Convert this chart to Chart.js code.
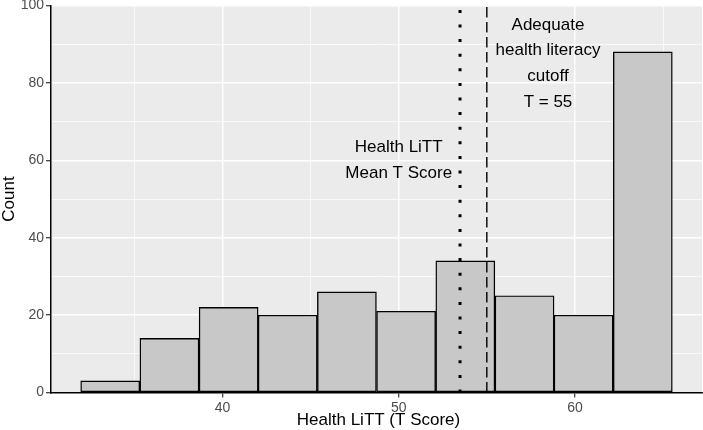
<!DOCTYPE html>
<html>
<head>
<meta charset="utf-8">
<script src="https://cdn.jsdelivr.net/npm/chart.js@4"></script>
<style>
    html, body { margin: 0; padding: 0; background: #ffffff; }
    #wrap { width: 703px; height: 430px; }
</style>
</head>
<body>
<div id="wrap"><canvas id="hist" width="703" height="430"></canvas></div>
<script>
// Histogram bins (centres of the bins) and counts
const binCenters = [33.63, 36.99, 40.35, 43.70, 47.06, 50.42, 53.78, 57.14, 60.49, 63.85];
const counts = [3, 14, 22, 20, 26, 21, 34, 25, 20, 88];

// Reference lines
const meanT = 53.48;
const cutoffT = 55;

// Axis ticks
const xTicks = [35, 40, 45, 50, 55, 60, 65];
const xTickLabels = [40, 50, 60];
const yTicks = [0, 10, 20, 30, 40, 50, 60, 70, 80, 90, 100];
const yTickLabels = [0, 20, 40, 60, 80, 100];

// Text annotations
const meanLabel = ['Health LiTT', 'Mean T Score'];
const meanLabelPos = { x: 50, y: 60 };
const cutoffLabel = ['Adequate', 'health literacy', 'cutoff', 'T = 55'];
const cutoffLabelPos = { x: 58.47, y: 85 };

const FONT = '"Liberation Sans", Arial, sans-serif';

const isMajorX = v => xTickLabels.includes(v);
const isMajorY = v => yTickLabels.includes(v);

// grey panel background behind the grid
const panelBackground = {
    id: 'panelBackground',
    beforeDraw(chart) {
        const { ctx, chartArea: a } = chart;
        ctx.save();
        ctx.fillStyle = '#ebebeb';
        ctx.fillRect(a.left, a.top, a.right - a.left, a.bottom - a.top);
        ctx.restore();
    }
};

// vertical reference lines and text labels
const refLines = {
    id: 'refLines',
    afterDatasetsDraw(chart) {
        const { ctx, chartArea: a, scales } = chart;
        const x = scales.x, y = scales.y;
        ctx.save();

        // dotted mean line
        const xm = x.getPixelForValue(meanT);
        ctx.strokeStyle = '#000000';
        ctx.lineWidth = 3;
        ctx.lineCap = 'butt';
        ctx.setLineDash([3, 11.6]);
        ctx.beginPath();
        ctx.moveTo(xm, a.bottom);
        ctx.lineTo(xm, a.top);
        ctx.stroke();

        // dashed cutoff line
        const xc = x.getPixelForValue(cutoffT);
        ctx.lineWidth = 1.4;
        ctx.setLineDash([10.5, 4.5]);
        ctx.beginPath();
        ctx.moveTo(xc, a.bottom);
        ctx.lineTo(xc, a.top);
        ctx.stroke();
        ctx.setLineDash([]);

        // labels
        ctx.fillStyle = '#000000';
        ctx.font = '17px ' + FONT;
        ctx.textAlign = 'center';
        ctx.textBaseline = 'middle';
        const drawBlock = (lines, pos, spacing) => {
            const cx = x.getPixelForValue(pos.x);
            const cy = y.getPixelForValue(pos.y);
            const start = cy - spacing * (lines.length - 1) / 2;
            lines.forEach((t, i) => ctx.fillText(t, cx, start + i * spacing));
        };
        drawBlock(meanLabel, meanLabelPos, 26.4);
        drawBlock(cutoffLabel, cutoffLabelPos, 25.7);

        ctx.restore();
    }
};

// axis titles
const axisTitles = {
    id: 'axisTitles',
    afterDraw(chart) {
        const { ctx, chartArea: a } = chart;
        ctx.save();
        ctx.fillStyle = '#000000';
        ctx.font = '17px ' + FONT;
        ctx.textAlign = 'center';
        ctx.textBaseline = 'alphabetic';
        ctx.fillText('Health LiTT (T Score)', (a.left + a.right) / 2 + 2, 425);

        ctx.translate(13.5, (a.top + a.bottom) / 2);
        ctx.rotate(-Math.PI / 2);
        ctx.fillText('Count', 0, 0);
        ctx.restore();
    }
};

new Chart(document.getElementById('hist'), {
    type: 'bar',
    data: {
        datasets: [{
            data: binCenters.map((c, i) => ({ x: c, y: counts[i] })),
            backgroundColor: '#c8c8c8',
            borderColor: '#000000',
            borderWidth: 1.4,
            borderSkipped: false,
            barPercentage: 1,
            categoryPercentage: 1
        }]
    },
    options: {
        responsive: false,
        animation: false,
        devicePixelRatio: 1,
        layout: { padding: { top: 5.5, right: 1, left: 0, bottom: 0 } },
        plugins: {
            legend: { display: false },
            tooltip: { enabled: false }
        },
        scales: {
            x: {
                type: 'linear',
                offset: false,
                min: 30.27,
                max: 67.21,
                afterBuildTicks: s => { s.ticks = xTicks.map(v => ({ value: v })); },
                afterFit: s => {
                    s.height = 37.5;
                    s.paddingLeft = 0;
                    s.paddingRight = 0;
                },
                ticks: {
                    autoSkip: false,
                    maxRotation: 0,
                    padding: 2,
                    color: '#4d4d4d',
                    font: { family: FONT, size: 14 },
                    callback: v => isMajorX(v) ? v : ''
                },
                grid: {
                    offset: false,
                    color: '#ffffff',
                    lineWidth: c => (c.tick && isMajorX(c.tick.value)) ? 1.4 : 0.7,
                    tickLength: 5,
                    tickWidth: 1.2,
                    tickColor: c => (c.tick && isMajorX(c.tick.value)) ? '#333333' : 'rgba(0,0,0,0)'
                },
                border: { display: true, color: '#000000', width: 1.5 }
            },
            y: {
                min: 0,
                max: 100,
                afterBuildTicks: s => { s.ticks = yTicks.map(v => ({ value: v })); },
                afterFit: s => {
                    s.width = 51;
                    s.paddingTop = 0;
                    s.paddingBottom = 0;
                },
                ticks: {
                    autoSkip: false,
                    padding: 2,
                    color: '#4d4d4d',
                    font: { family: FONT, size: 14 },
                    callback: v => isMajorY(v) ? v : ''
                },
                grid: {
                    color: '#ffffff',
                    lineWidth: c => (c.tick && isMajorY(c.tick.value)) ? 1.4 : 0.7,
                    tickLength: 5,
                    tickWidth: 1.2,
                    tickColor: c => (c.tick && isMajorY(c.tick.value)) ? '#333333' : 'rgba(0,0,0,0)'
                },
                border: { display: true, color: '#000000', width: 1.5 }
            }
        }
    },
    plugins: [panelBackground, refLines, axisTitles]
});
</script>
</body>
</html>
